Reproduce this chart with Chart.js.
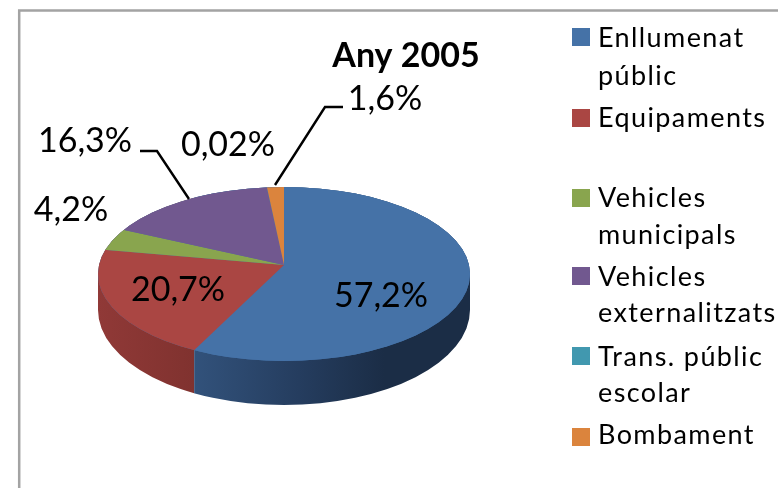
<!DOCTYPE html>
<html>
<head>
<meta charset="utf-8">
<style>html,body{margin:0;padding:0;background:#fff}canvas{display:block}</style>
<script src="https://cdn.jsdelivr.net/npm/chart.js@4"></script>
</head>
<body>
<canvas id="c" width="778" height="488"></canvas>
<script>
const titleText = 'Any 2005';
const categories = ['Enllumenat públic','Equipaments','Vehicles municipals','Vehicles externalitzats','Trans. públic escolar','Bombament'];
const values = [57.2, 20.7, 4.2, 16.3, 0.02, 1.6];
const colors = ['#4572A7','#AA4643','#89A54E','#71588F','#4198AF','#DB843D'];
const legendLines = [['Enllumenat','públic'],['Equipaments'],['Vehicles','municipals'],['Vehicles','externalitzats'],['Trans. públic','escolar'],['Bombament']];
const legendBaselines = [[47,85],[127],[207,244],[286,322],[366,402],[444]];
const legendSwatchTops = [28,109,189,267,347,428];
const labelPositions = [[381,307],[178,301],[71,221],[85,152],[228,156],[385,110]];
const leaderLines = [[[140,151],[157,151],[189,199]],[[343,107],[325,107],[275,185]]];
const FONT = 'Lato';
const apex = {x:284,y:265}, squash = 0.46;
const top3d = {x:284,y:274,rx:186,ry:87}, bottom3d = {x:284,y:310,rx:186,ry:95};

function wallEdgeX(angle){
  const dx=Math.cos(angle), dy=squash*Math.sin(angle);
  const ox=(apex.x-top3d.x)/top3d.rx, oy=(apex.y-top3d.y)/top3d.ry;
  const ux=dx/top3d.rx, uy=dy/top3d.ry;
  const a=ux*ux+uy*uy,b=2*(ox*ux+oy*uy),c=ox*ox+oy*oy-1;
  const t=(-b+Math.sqrt(b*b-4*a*c))/(2*a);
  return apex.x+t*dx;
}
function wallPath(ctx){
  ctx.beginPath();
  ctx.ellipse(top3d.x,top3d.y,top3d.rx,top3d.ry,0,0,Math.PI*2);
  ctx.closePath();
  ctx.ellipse(bottom3d.x,bottom3d.y,bottom3d.rx,bottom3d.ry,0,0,Math.PI*2);
  ctx.closePath();
  ctx.rect(top3d.x-top3d.rx,top3d.y,top3d.rx*2,bottom3d.y-top3d.y);
}
const pie3d = {
  id:'pie3d',
  beforeDraw(chart){
    const ctx=chart.ctx;
    ctx.save();
    ctx.fillStyle='#fff';ctx.fillRect(0,0,778,488);
    ctx.strokeStyle='#a3a3a3';ctx.lineWidth=2.5;
    ctx.beginPath();ctx.moveTo(778,10.5);ctx.lineTo(19.2,10.5);ctx.lineTo(19.2,488);ctx.stroke();
    ctx.restore();
  },
  beforeDatasetsDraw(chart){
    const ctx=chart.ctx, arcs=chart.getDatasetMeta(0).data;
    const edge=wallEdgeX(arcs[0].endAngle);
    // side wall
    ctx.save();
    ctx.beginPath();ctx.rect(0,0,edge,488);ctx.clip();
    let g=ctx.createLinearGradient(top3d.x-top3d.rx,0,edge,0);
    g.addColorStop(0,'#903937');g.addColorStop(1,'#80322F');
    ctx.fillStyle=g;wallPath(ctx);ctx.fill('nonzero');
    ctx.restore();
    ctx.save();
    ctx.beginPath();ctx.rect(edge,0,778-edge,488);ctx.clip();
    g=ctx.createLinearGradient(edge,0,top3d.x+100,0);
    g.addColorStop(0,'#32527B');g.addColorStop(0.55,'#253D5F');g.addColorStop(1,'#1B2D46');
    ctx.fillStyle=g;wallPath(ctx);ctx.fill('nonzero');
    ctx.restore();
    // top face: the library's own arcs, seen through the projection
    ctx.save();
    ctx.beginPath();ctx.ellipse(top3d.x,top3d.y,top3d.rx,top3d.ry,0,0,Math.PI*2);ctx.clip();
    ctx.fillStyle=colors[0];ctx.fillRect(0,0,778,488);
    ctx.translate(apex.x,apex.y);ctx.scale(1,squash);ctx.translate(-arcs[0].x,-arcs[0].y);
  },
  afterDatasetsDraw(chart){
    const ctx=chart.ctx;
    ctx.restore();
    ctx.save();
    ctx.fillStyle='#000';ctx.textBaseline='alphabetic';
    // title
    ctx.font='bold 34px '+FONT;ctx.textAlign='center';ctx.letterSpacing='0px';
    ctx.fillText(titleText,406,67);
    // value labels
    ctx.font='34px '+FONT;
    values.forEach((v,i)=>{
      ctx.fillText(String(v).replace('.',',')+'%',labelPositions[i][0],labelPositions[i][1]);
    });
    // leader lines
    ctx.strokeStyle='#000';ctx.lineWidth=2.4;ctx.lineJoin='miter';
    leaderLines.forEach(l=>{
      ctx.beginPath();l.forEach((p,i)=>i?ctx.lineTo(p[0],p[1]):ctx.moveTo(p[0],p[1]));ctx.stroke();
    });
    // legend
    ctx.textAlign='left';ctx.font='27px '+FONT;ctx.letterSpacing='1.4px';
    legendLines.forEach((lines,i)=>{
      ctx.fillStyle=colors[i];ctx.fillRect(572,legendSwatchTops[i],18,18);
      ctx.fillStyle='#000';
      lines.forEach((t,j)=>ctx.fillText(t,598,legendBaselines[i][j]));
    });
    ctx.restore();
  }
};
new Chart(document.getElementById('c'),{
  type:'pie',
  data:{labels:categories,datasets:[{data:values,backgroundColor:colors,borderWidth:0,clip:false}]},
  options:{
    responsive:false,animation:false,
    layout:{padding:0},
    plugins:{legend:{display:false},tooltip:{enabled:false},title:{display:false}}
  },
  plugins:[pie3d]
});
</script>
</body>
</html>
